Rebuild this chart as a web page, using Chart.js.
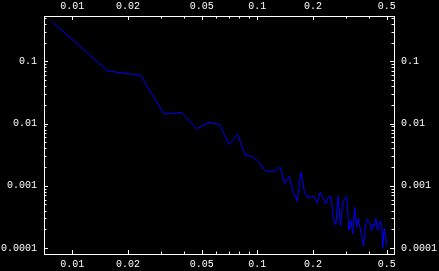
<!DOCTYPE html>
<html lang="en">
<head>
    <meta charset="UTF-8">
    <title>Log-log spectrum</title>
    <script src="https://cdn.jsdelivr.net/npm/chart.js"></script>
    <style>
        body { margin: 0; padding: 0; background: #000; }
        canvas { display: block; }
    </style>
</head>
<body>
    <canvas id="chart" width="439" height="271"></canvas>
    <script>
        // frequencies (x) and power (y)
        const freq = [
            0.0078, 0.0156, 0.0234, 0.0313, 0.0391, 0.0469, 0.0547, 0.0625,
            0.0703, 0.0781, 0.0859, 0.0938, 0.1016, 0.1094, 0.1172, 0.125,
            0.1328, 0.1406, 0.1484, 0.1563, 0.1641, 0.1719, 0.1797, 0.1875,
            0.1953, 0.2031, 0.2109, 0.2188, 0.2266, 0.2344, 0.2422, 0.25,
            0.2578, 0.2656, 0.2734, 0.2813, 0.2891, 0.2969, 0.3047, 0.3125,
            0.3203, 0.3281, 0.3359, 0.3438, 0.3516, 0.3594, 0.3672, 0.375,
            0.3828, 0.3906, 0.3984, 0.4063, 0.4141, 0.4219, 0.4297, 0.4375,
            0.4453, 0.4531, 0.4609, 0.4688, 0.4766, 0.4844, 0.4922, 0.5
        ];
        const power = [
            0.428, 0.0698, 0.0596, 0.0142, 0.0151, 0.00824, 0.01045, 0.00964,
            0.00459, 0.0067, 0.00312, 0.00294, 0.00245, 0.00179, 0.00169, 0.00172,
            0.002, 0.00109, 0.00141, 0.000792, 0.000568, 0.00166, 0.000792, 0.000634,
            0.000683, 0.000658, 0.000527, 0.000792, 0.000634, 0.000508, 0.000658, 0.000683,
            0.000303, 0.000234, 0.000683, 0.000225, 0.000508, 0.000634, 0.000658, 0.000194,
            0.000281, 0.000167, 0.000454, 0.000217, 0.000303, 0.000209, 0.000155, 0.000107,
            0.000209, 0.000292, 0.000271, 0.000252, 0.000187, 0.000242, 0.000225, 0.000303,
            0.000194, 0.000209, 0.000271, 0.000252, 0.0000995, 0.000209, 0.000167, 0.000111
        ];

        const xMajor = [0.01, 0.02, 0.05, 0.1, 0.2, 0.5];
        const xLabels = ['0.01', '0.02', '0.05', '0.1', '0.2', '0.5'];
        const xMinor = [0.03, 0.04, 0.06, 0.07, 0.08, 0.09, 0.3, 0.4];
        const yMajor = [0.0001, 0.001, 0.01, 0.1];
        const yLabels = ['0.0001', '0.001', '0.01', '0.1'];
        const yMinor = [
            0.0002, 0.0003, 0.0004, 0.0005, 0.0006, 0.0007, 0.0008, 0.0009,
            0.002, 0.003, 0.004, 0.005, 0.006, 0.007, 0.008, 0.009,
            0.02, 0.03, 0.04, 0.05, 0.06, 0.07, 0.08, 0.09,
            0.2, 0.3, 0.4, 0.5
        ];

        const font = { family: 'Liberation Mono', size: 10 };

        function logAxis(position, min, max, majors, labels, size, pad) {
            return {
                type: 'logarithmic',
                position: position,
                min: min,
                max: max,
                grid: { display: false, drawTicks: false },
                border: { display: true, color: '#fff', width: 1 },
                ticks: {
                    color: '#fff',
                    font: font,
                    padding: pad,
                    autoSkip: false,
                    maxRotation: 0,
                    callback: (v, i) => labels[i]
                },
                afterBuildTicks: s => { s.ticks = majors.map(v => ({ value: v })); },
                afterFit: s => {
                    if (s.isHorizontal()) s.height = size; else s.width = size;
                }
            };
        }

        // inward tick marks, major longer than minor
        const tickMarks = {
            id: 'tickMarks',
            afterDraw(chart) {
                const { ctx, chartArea: a, scales } = chart;
                ctx.save();
                ctx.strokeStyle = '#fff';
                ctx.lineWidth = 1;
                ctx.beginPath();
                const xs = (v, len) => {
                    const p = Math.round(scales.x.getPixelForValue(v)) + 0.5;
                    ctx.moveTo(p, a.bottom); ctx.lineTo(p, a.bottom - len);
                    ctx.moveTo(p, a.top); ctx.lineTo(p, a.top + len);
                };
                const ys = (v, len) => {
                    const p = Math.round(scales.y.getPixelForValue(v)) + 0.5;
                    ctx.moveTo(a.left, p); ctx.lineTo(a.left + len, p);
                    ctx.moveTo(a.right, p); ctx.lineTo(a.right - len, p);
                };
                xMajor.forEach(v => xs(v, 4));
                xMinor.forEach(v => xs(v, 2.5));
                yMajor.forEach(v => ys(v, 4));
                yMinor.forEach(v => ys(v, 2.5));
                ctx.stroke();
                ctx.restore();
            }
        };

        const ctx = document.getElementById('chart').getContext('2d');
        const chart = new Chart(ctx, {
            type: 'line',
            data: {
                datasets: [{
                    data: freq.map((f, i) => ({ x: f, y: power[i] })),
                    borderColor: '#0000ff',
                    borderWidth: 1,
                    pointRadius: 0,
                    tension: 0,
                    fill: false
                }]
            },
            options: {
                responsive: false,
                animation: false,
                devicePixelRatio: 1,
                layout: { padding: 0 },
                plugins: { legend: { display: false }, tooltip: { enabled: false } },
                scales: {
                    x: logAxis('bottom', 0.00703, 0.548, xMajor, xLabels, 17, 4),
                    x2: logAxis('top', 0.00703, 0.548, xMajor, xLabels, 16, 4),
                    y: logAxis('left', 0.00008, 0.535, yMajor, yLabels, 44, 7),
                    y2: logAxis('right', 0.00008, 0.535, yMajor, yLabels, 45, 7)
                }
            },
            plugins: [tickMarks]
        });
    </script>
</body>
</html>
